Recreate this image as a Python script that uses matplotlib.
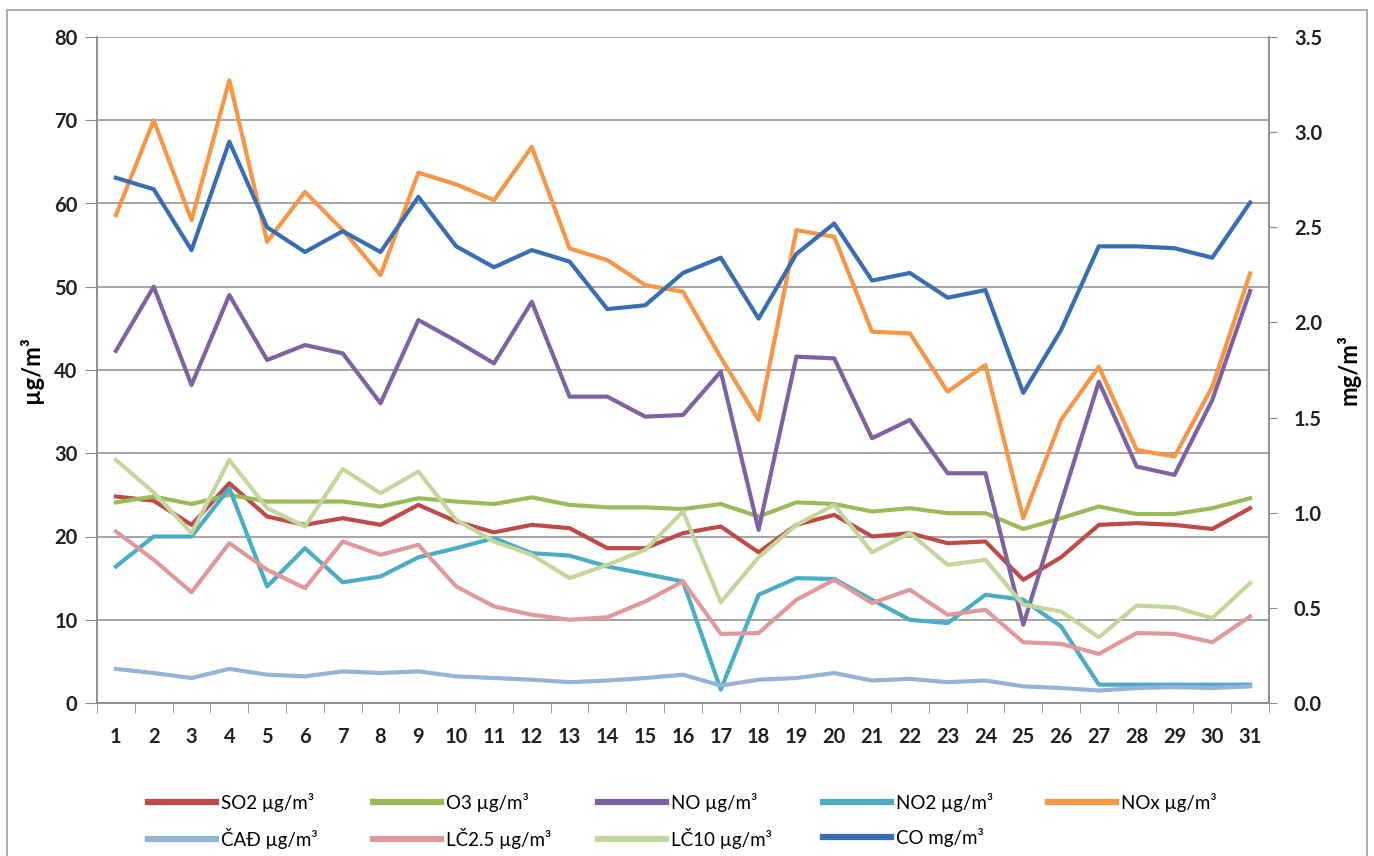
import numpy as np
import matplotlib
matplotlib.use("Agg")
import matplotlib.pyplot as plt
from matplotlib.patches import Rectangle
from matplotlib.ticker import FixedLocator, FormatStrFormatter

# days of the month
days = list(range(1, 32))

# values in µg/m³ (left axis)
so2 = [24.8, 24.3, 21.4, 26.4, 22.4, 21.4, 22.2, 21.4, 23.8, 21.8, 20.5, 21.4, 21.0, 18.6, 18.6, 20.4,
       21.2, 18.1, 21.4, 22.6, 20.0, 20.4, 19.2, 19.4, 14.8, 17.5, 21.4, 21.6, 21.4, 20.9, 23.4]
o3 = [24.1, 24.8, 23.9, 25.0, 24.2, 24.2, 24.2, 23.6, 24.6, 24.2, 23.9, 24.7, 23.8, 23.5, 23.5, 23.3,
      23.9, 22.4, 24.1, 23.9, 23.0, 23.4, 22.8, 22.8, 20.9, 22.2, 23.6, 22.7, 22.7, 23.4, 24.6]
no = [42.3, 50.0, 38.2, 49.0, 41.2, 43.0, 42.0, 36.0, 46.0, 43.5, 40.8, 48.2, 36.8, 36.8, 34.4, 34.6,
      39.8, 20.8, 41.6, 41.4, 31.8, 34.0, 27.6, 27.6, 9.4, 24.0, 38.6, 28.4, 27.4, 36.4, 49.5]
no2 = [16.4, 20.0, 20.0, 25.8, 14.0, 18.6, 14.5, 15.2, 17.5, 18.6, 19.8, 18.0, 17.7, 16.4, 15.5, 14.6,
       1.6, 13.0, 15.0, 14.9, 12.4, 10.0, 9.6, 13.0, 12.4, 9.2, 2.2, 2.2, 2.2, 2.2, 2.2]
nox = [58.6, 70.0, 58.0, 74.8, 55.4, 61.4, 56.8, 51.4, 63.7, 62.3, 60.4, 66.8, 54.6, 53.2, 50.2, 49.4,
       41.5, 34.0, 56.8, 56.0, 44.6, 44.4, 37.4, 40.6, 22.2, 34.0, 40.4, 30.4, 29.6, 38.0, 51.6]
cad = [4.1, 3.6, 3.0, 4.1, 3.4, 3.2, 3.8, 3.6, 3.8, 3.2, 3.0, 2.8, 2.5, 2.7, 3.0, 3.4,
       2.1, 2.8, 3.0, 3.6, 2.7, 2.9, 2.5, 2.7, 2.0, 1.8, 1.5, 1.8, 1.9, 1.8, 2.0]
lc25 = [20.6, 17.2, 13.3, 19.2, 16.0, 13.8, 19.4, 17.8, 19.0, 14.0, 11.6, 10.6, 10.0, 10.3, 12.2, 14.6,
        8.3, 8.4, 12.4, 14.8, 12.0, 13.6, 10.6, 11.2, 7.3, 7.1, 5.9, 8.4, 8.3, 7.3, 10.4]
lc10 = [29.2, 25.3, 20.4, 29.2, 23.4, 21.2, 28.1, 25.2, 27.8, 22.0, 19.4, 17.8, 15.0, 16.6, 18.4, 23.0,
        12.1, 17.5, 21.4, 23.8, 18.1, 20.4, 16.6, 17.2, 11.8, 11.0, 7.9, 11.7, 11.5, 10.2, 14.4]

# CO in mg/m³ (right axis)
co = [2.76, 2.70, 2.38, 2.95, 2.50, 2.37, 2.48, 2.37, 2.66, 2.40, 2.29, 2.38, 2.32, 2.07, 2.09, 2.26,
      2.34, 2.02, 2.36, 2.52, 2.22, 2.26, 2.13, 2.17, 1.63, 1.96, 2.40, 2.40, 2.39, 2.34, 2.63]

left_series = [
    ("SO2 µg/m³", so2, "#BE4B48"),
    ("O3 µg/m³", o3, "#9BBB59"),
    ("NO µg/m³", no, "#7F62A1"),
    ("NO2 µg/m³", no2, "#4BACC6"),
    ("NOx µg/m³", nox, "#F79646"),
    ("ČAĐ µg/m³", cad, "#95B3D7"),
    ("LČ2.5 µg/m³", lc25, "#E0999A"),
    ("LČ10 µg/m³", lc10, "#C3D69B"),
]
co_label = "CO mg/m³"
co_color = "#3A6EB2"

plt.rcParams['font.family'] = ['Lato', 'DejaVu Sans']
W, H = 1374, 856
fig = plt.figure(figsize=(W / 100, H / 100), dpi=100)

# chart area border
fig.patches.append(Rectangle((7 / W, -0.01), (1367 - 7) / W, 1 - 10 / H + 0.01,
                             transform=fig.transFigure, fill=False,
                             edgecolor="#A0A0A0", linewidth=1.2))

ax = fig.add_axes([97 / W, 1 - 703 / H, (1269 - 97) / W, (703 - 37) / H])
grid_c = "#8C8C8C"
tick_fs = 14.5

handles = {}
for label, vals, color in left_series:
    ln, = ax.plot(days, vals, color=color, lw=3.0, label=label)
    handles[label] = ln

ax.set_xlim(0.5, 31.5)
ax.set_ylim(0, 80)
ax.set_yticks(np.arange(0, 81, 10))
ax.yaxis.grid(True, color=grid_c, lw=1.1)
ax.set_axisbelow(True)
ax.set_xticks(days)
ax.xaxis.set_minor_locator(FixedLocator(np.arange(0.5, 32, 1)))
ax.tick_params(axis='x', which='major', length=0, pad=17)
ax.tick_params(axis='x', which='minor', length=7, color=grid_c, direction='out')
ax.tick_params(axis='y', length=9, color=grid_c, pad=5)
for lab in ax.get_xticklabels() + ax.get_yticklabels():
    lab.set_fontsize(tick_fs)
    lab.set_fontweight('bold')
    lab.set_color('#222222')
ax.spines['top'].set_visible(False)
for s in ['left', 'bottom', 'right']:
    ax.spines[s].set_color(grid_c)
    ax.spines[s].set_linewidth(1.1)
ax.set_ylabel("µg/m³", fontsize=17, fontweight='bold', labelpad=8)

ax2 = ax.twinx()
co_ln, = ax2.plot(days, co, color=co_color, lw=3.0, label=co_label)
handles[co_label] = co_ln
ax2.set_ylim(0, 3.5)
ax2.set_yticks(np.arange(0, 3.51, 0.5))
ax2.yaxis.set_major_formatter(FormatStrFormatter('%.1f'))
ax2.tick_params(axis='y', length=6, color=grid_c, pad=12)
for lab in ax2.get_yticklabels():
    lab.set_fontsize(tick_fs)
    lab.set_fontweight('bold')
    lab.set_color('#222222')
ax2.spines['top'].set_visible(False)
for s in ['left', 'bottom', 'right']:
    ax2.spines[s].set_color(grid_c)
    ax2.spines[s].set_linewidth(1.1)
ax2.set_ylabel("mg/m³", fontsize=17, fontweight='bold', labelpad=10)

# legend: 5 equal-width columns, two rows, filled row by row
columns = [["SO2 µg/m³", "ČAĐ µg/m³"], ["O3 µg/m³", "LČ2.5 µg/m³"],
           ["NO µg/m³", "LČ10 µg/m³"], ["NO2 µg/m³", "CO mg/m³"], ["NOx µg/m³"]]
col_x0 = 148
col_step = 225
for j, col in enumerate(columns):
    leg = fig.legend([handles[k] for k in col], col, loc='upper left',
                     bbox_to_anchor=((col_x0 + j * col_step) / W, 1 - 793 / H),
                     frameon=False, fontsize=13.5, handlelength=3.6,
                     handletextpad=0.3, labelspacing=0.85, borderpad=0,
                     borderaxespad=0)
    for ln in leg.get_lines():
        ln.set_linewidth(4.5)

fig.savefig("out.png", dpi=100)
